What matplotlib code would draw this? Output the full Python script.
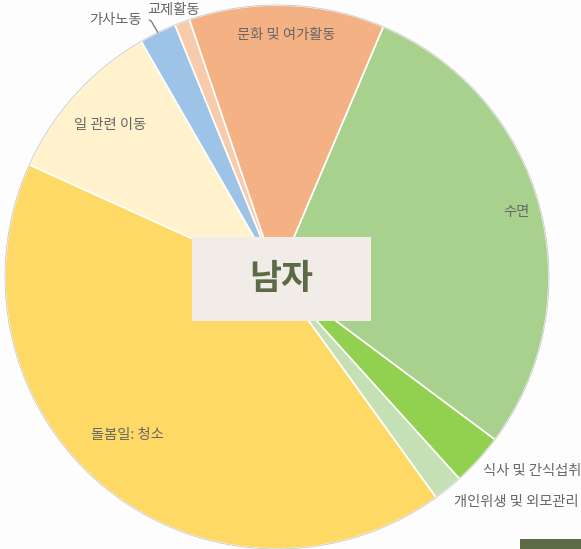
import numpy as np
import matplotlib.pyplot as plt
from matplotlib.patches import Rectangle, Circle

plt.rcParams['font.family'] = ['Noto Sans CJK KR', 'DejaVu Sans']

# Daily time use shares (%)
labels = ['수면', '식사 및 간식섭취', '개인위생 및 외모관리', '돌봄일: 청소',
          '일 관련 이동', '가사노동', '교제활동', '문화 및 여가활동']
values = [28.8, 3.1, 1.75, 41.7, 9.9, 2.2, 0.9, 11.6]
colors = ['#a9d18e', '#92d050', '#c5e0b4', '#ffd966',
          '#fff2cc', '#9dc3e6', '#f8cbad', '#f4b183']
title = '남자'

W, H = 581, 549
fig = plt.figure(figsize=(W/100, H/100), dpi=100, facecolor='#fdfdfd')
ax = fig.add_axes([0, 0, 1, 1])

cx, cy, R = 277, H - 277, 272
wedges, _ = ax.pie(values, colors=colors, startangle=67, counterclock=False,
                   center=(cx, cy), radius=R, frame=True,
                   wedgeprops=dict(edgecolor='white', linewidth=1.2))
ax.set_xlim(0, W)
ax.set_ylim(0, H)
ax.set_aspect('equal')
ax.axis('off')
ax.add_patch(Circle((cx, cy), R, fill=False, edgecolor='#c8c8c8', lw=0.6, zorder=3))

txt_col = '#666666'
fs = 10.3
# (distance factor, angle tweak in deg, horizontal alignment) per label
place = [(0.91, 0, 'center'), (1.025, 0, 'left'), (1.035, 0, 'left'),
         (0.80, -4, 'center'), (0.83, 0, 'center'), None,
         (1.052, 0.7, 'center'), (0.89, 0, 'center')]
for w, lab, p in zip(wedges, labels, place):
    mid = (w.theta1 + w.theta2) / 2
    if p is None:
        # label with a leader line
        m = np.deg2rad(mid)
        ex, ey = cx + R*np.cos(m), cy + R*np.sin(m)
        t = np.deg2rad(mid + 1.7)
        tx, ty = cx + 1.067*R*np.cos(t), cy + 1.067*R*np.sin(t)
        ax.annotate(lab, xy=(ex, ey), xytext=(tx, ty), ha='right', va='center',
                    fontsize=fs, color=txt_col,
                    arrowprops=dict(arrowstyle='-', color='#777777', lw=0.9,
                                    connectionstyle='angle,angleA=0,angleB=120,rad=2',
                                    shrinkA=3, shrinkB=0))
        continue
    d, da, ha = p
    a = np.deg2rad(mid + da)
    tx, ty = cx + d*R*np.cos(a), cy + d*R*np.sin(a)
    if ha == 'left':
        ty -= 6
    ax.text(tx, ty, lab, ha=ha, va='center', fontsize=fs, color=txt_col)

# centre title box
ax.add_patch(Rectangle((192, H - 321), 179, 84, facecolor='#f2ece8',
                       edgecolor='none', zorder=4))
ax.text(281.5, H - 279, title, ha='center', va='center', fontsize=25,
        fontweight='bold', color='#5a6b45', zorder=5)

# small dark tab bottom-right
fig.patches.append(Rectangle((520/W, 0), 61/W, 10/H, transform=fig.transFigure,
                             facecolor='#5b6b45', edgecolor='none'))

fig.savefig('out.png', dpi=100, facecolor=fig.get_facecolor())
